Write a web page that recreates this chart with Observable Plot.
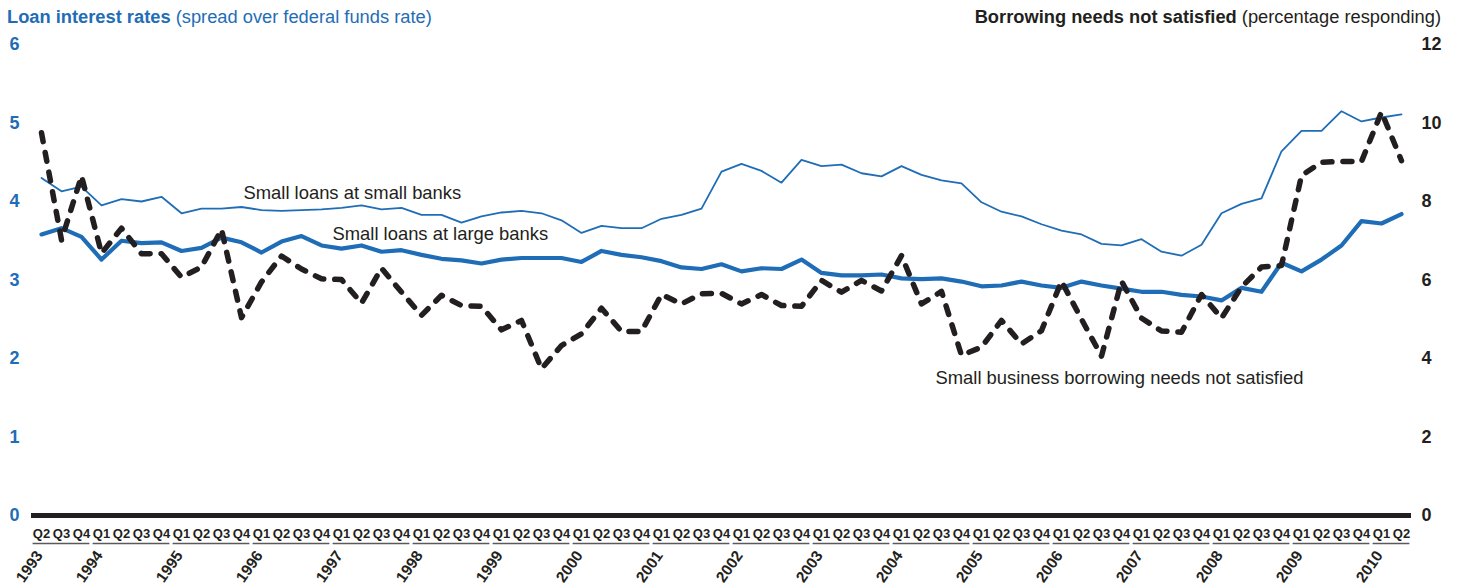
<!DOCTYPE html>
<html><head><meta charset="utf-8">
<script src="https://cdn.jsdelivr.net/npm/d3@7"></script>
<script src="https://cdn.jsdelivr.net/npm/@observablehq/plot@0.6"></script>
<style>
body{margin:0;background:#fff;font-family:"Liberation Sans",Arial,Helvetica,sans-serif;}
#wrap{position:relative;width:1457px;height:588px;overflow:hidden;}
#chart{position:absolute;left:0;top:0;}
.t{position:absolute;top:6px;font-size:18.3px;line-height:22px;white-space:nowrap;z-index:2;}
#tl{left:7px;color:#1f6db6;}
#tr{right:16px;color:#231f20;}
</style></head><body>
<div id="wrap">
<div class="t" id="tl"><b>Loan interest rates</b> (spread over federal funds rate)</div>
<div class="t" id="tr"><b>Borrowing needs not satisfied</b> (percentage responding)</div>
<div id="chart"></div>
</div>
<script>
const quarters = [
 "1993 Q2","1993 Q3","1993 Q4",
 "1994 Q1","1994 Q2","1994 Q3","1994 Q4",
 "1995 Q1","1995 Q2","1995 Q3","1995 Q4",
 "1996 Q1","1996 Q2","1996 Q3","1996 Q4",
 "1997 Q1","1997 Q2","1997 Q3","1997 Q4",
 "1998 Q1","1998 Q2","1998 Q3","1998 Q4",
 "1999 Q1","1999 Q2","1999 Q3","1999 Q4",
 "2000 Q1","2000 Q2","2000 Q3","2000 Q4",
 "2001 Q1","2001 Q2","2001 Q3","2001 Q4",
 "2002 Q1","2002 Q2","2002 Q3","2002 Q4",
 "2003 Q1","2003 Q2","2003 Q3","2003 Q4",
 "2004 Q1","2004 Q2","2004 Q3","2004 Q4",
 "2005 Q1","2005 Q2","2005 Q3","2005 Q4",
 "2006 Q1","2006 Q2","2006 Q3","2006 Q4",
 "2007 Q1","2007 Q2","2007 Q3","2007 Q4",
 "2008 Q1","2008 Q2","2008 Q3","2008 Q4",
 "2009 Q1","2009 Q2","2009 Q3","2009 Q4",
 "2010 Q1","2010 Q2"
];
// Small loans at small banks (spread, percentage points)
const smallBanks = [
 4.30,4.13,4.19,3.95,4.03,4.00,4.06,3.85,3.91,3.91,
 3.93,3.89,3.88,3.89,3.90,3.92,3.95,3.90,3.92,3.83,
 3.83,3.73,3.81,3.86,3.88,3.85,3.76,3.60,3.69,3.66,
 3.66,3.78,3.83,3.91,4.38,4.48,4.39,4.24,4.53,4.45,
 4.47,4.36,4.32,4.45,4.34,4.27,4.23,3.99,3.87,3.81,
 3.71,3.63,3.58,3.46,3.44,3.52,3.36,3.31,3.45,3.85,
 3.97,4.04,4.64,4.90,4.90,5.15,5.02,5.07,5.11
];
// Small loans at large banks
const largeBanks = [
 3.58,3.66,3.55,3.26,3.50,3.47,3.48,3.37,3.41,3.54,
 3.48,3.35,3.49,3.56,3.44,3.40,3.44,3.36,3.38,3.32,
 3.27,3.25,3.21,3.26,3.28,3.28,3.28,3.23,3.37,3.32,
 3.29,3.24,3.16,3.14,3.20,3.11,3.15,3.14,3.26,3.09,
 3.06,3.06,3.07,3.02,3.01,3.02,2.98,2.92,2.93,2.98,
 2.93,2.90,2.98,2.93,2.89,2.85,2.85,2.81,2.79,2.74,
 2.90,2.85,3.22,3.11,3.26,3.44,3.75,3.72,3.84
];
// Small business borrowing needs not satisfied (percentage responding, right axis)
const needsNotSatisfied = [
 9.75,7.02,8.65,6.68,7.32,6.67,6.67,6.07,6.33,7.29,
 5.04,5.95,6.61,6.28,6.03,6.01,5.41,6.30,5.69,5.10,
 5.61,5.35,5.33,4.73,4.97,3.74,4.33,4.63,5.28,4.69,
 4.69,5.63,5.39,5.65,5.66,5.39,5.63,5.35,5.33,5.99,
 5.69,5.99,5.72,6.62,5.39,5.71,4.08,4.29,4.97,4.37,
 4.71,5.97,5.00,4.06,5.97,5.03,4.70,4.67,5.63,5.03,
 5.82,6.33,6.37,8.66,9.00,9.02,9.02,10.28,9.04
];
const leftTicks = [0,1,2,3,4,5,6];
const rightTicks = [0,2,4,6,8,10,12];
const seriesLabels = [
 {text:"Small loans at small banks", series:"small", at:"1995 Q4"},
 {text:"Small loans at large banks", series:"large", at:"1997 Q1"},
 {text:"Small business borrowing needs not satisfied", series:"needs", at:"2004 Q3"}
];

const blue = "#1f6db6";
const dark = "#231f20";
const font = "'Liberation Sans', Arial, Helvetica, sans-serif";

const data = quarters.map((q,i)=>({i, year:+q.slice(0,4), q:q.slice(5), small:smallBanks[i], large:largeBanks[i], needs:needsNotSatisfied[i]}));
const years = Array.from(d3.group(data, d=>d.year), ([year, rows]) => ({year, first: rows[0].i, last: rows[rows.length-1].i}));
const labelRows = seriesLabels.map(s => {
  const d = data[quarters.indexOf(s.at)];
  return {...s, i:d.i, v: s.series==="needs" ? d.needs/2 : d[s.series]};
});
const offsets = {small:{dx:2,dy:-14}, large:{dx:-9,dy:-14}, needs:{dx:-6,dy:87}};

const chart = Plot.plot({
  width:1457, height:588,
  marginLeft:31, marginRight:46, marginTop:44, marginBottom:73,
  x:{type:"linear", domain:[-0.5, quarters.length-0.5]},
  y:{domain:[0,6]},
  style:{fontFamily:font, background:"white", overflow:"visible"},
  marks:[
    Plot.axisY({anchor:"left", ticks:leftTicks, tickFormat:d=>String(d), tickSize:0, tickPadding:22, textAnchor:"start", fontSize:18, fontWeight:"bold", fill:blue, label:null}),
    Plot.axisY({anchor:"right", ticks:rightTicks.map(d=>d/2), tickFormat:d=>String(d*2), tickSize:0, tickPadding:10, textAnchor:"start", fontSize:18, fontWeight:"bold", fill:dark, label:null}),
    Plot.axisX({ticks:data.map(d=>d.i), tickFormat:i=>data[i].q, tickSize:0, tickPadding:13, fontSize:13, fontWeight:"bold", fill:dark, label:null}),
    Plot.ruleY(years, {x1:d=>d.first-0.42, x2:d=>d.last+0.42, y:()=>0, dy:28, stroke:"#5a5a5a", strokeWidth:1.6}),
    Plot.text(years, {x:"first", y:()=>0, text:d=>String(d.year), rotate:-55, textAnchor:"end", dx:-2, dy:37, fontSize:15.5, fontWeight:"bold", fill:dark}),
    Plot.ruleY([0], {stroke:dark, strokeWidth:5}),
    Plot.line(data, {x:"i", y:"small", stroke:blue, strokeWidth:1.8}),
    Plot.line(data, {x:"i", y:"large", stroke:blue, strokeWidth:4.2}),
    Plot.line(data, {x:"i", y:d=>d.needs/2, stroke:dark, strokeWidth:5.5, strokeDasharray:"9,11", strokeLinecap:"round"}),
    ...labelRows.map(r => Plot.text([r], {x:"i", y:"v", text:"text", textAnchor:"start", dx:offsets[r.series].dx, dy:offsets[r.series].dy, fontSize:18.4, fill:dark}))
  ]
});
document.getElementById("chart").appendChild(chart);
</script>
</body></html>
